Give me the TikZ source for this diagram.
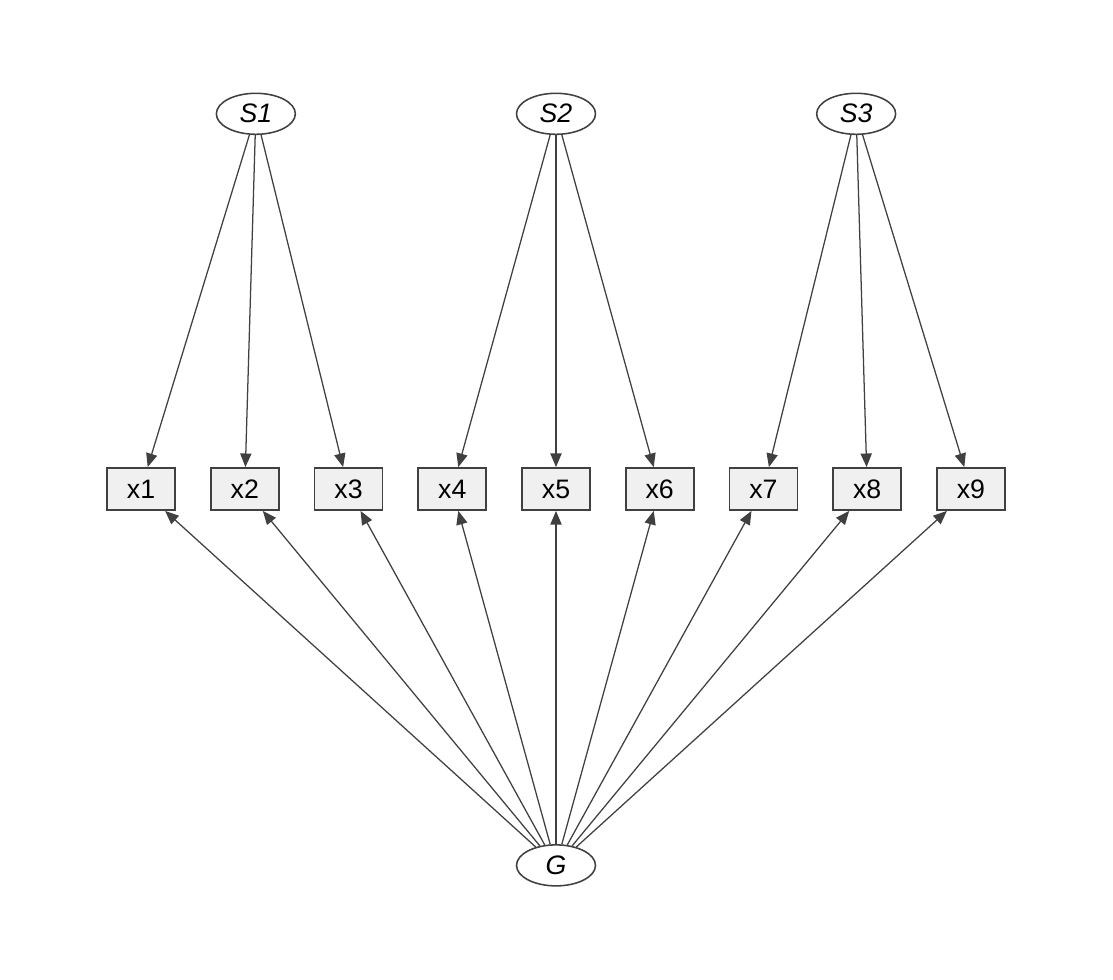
\documentclass[tikz,border=0pt]{standalone}
\usepackage{fontspec}
\setmainfont{Liberation Sans}
\usetikzlibrary{matrix,positioning,shapes.geometric,arrows.meta}

\definecolor{edgegray}{HTML}{404040}
\definecolor{boxfill}{HTML}{F0F0F0}

\tikzset{
  latent/.style={draw=edgegray, ellipse, line width=1.1pt, minimum width=1.975cm, minimum height=1.025cm, inner sep=0pt, font=\fontsize{19}{22}\selectfont\itshape},
  load/.style={draw=edgegray, line width=0.9pt, -{Triangle[length=0.34cm, width=0.28cm]}}
}

\begin{document}
\begin{tikzpicture}
    \useasboundingbox (0,0) rectangle (27.825,24.475);
    \matrix[matrix of nodes, nodes={draw=edgegray, fill=boxfill, line width=1.3pt, minimum width=1.7cm, minimum height=1.05cm, anchor=center, font=\fontsize{19}{22}\selectfont}, column sep=0.848cm] (m) at (13.9,12.25) {
        x1 & x2 & x3 & x4 & x5 & x6 & x7 & x8 & x9 \\
    };
    \node[latent, above=8.3cm of m-1-5] (S2) {S2};
    \node[latent, left=5.49cm of S2] (S1) {S1};
    \node[latent, right=5.49cm of S2] (S3) {S3};
    \node[latent, below=8.33cm of m-1-5] (G) {G};

    % specific factors
    \foreach \s/\a/\b/\c in {1/1/2/3, 2/4/5/6, 3/7/8/9} {
        \draw[load] (S\s) -- (m-1-\a);
        \draw[load] (S\s) -- (m-1-\b);
        \draw[load] (S\s) -- (m-1-\c);
    }
    % general factor
    \foreach \i in {1,...,9}
        \draw[load] (G) -- (m-1-\i);
\end{tikzpicture}
\end{document}
